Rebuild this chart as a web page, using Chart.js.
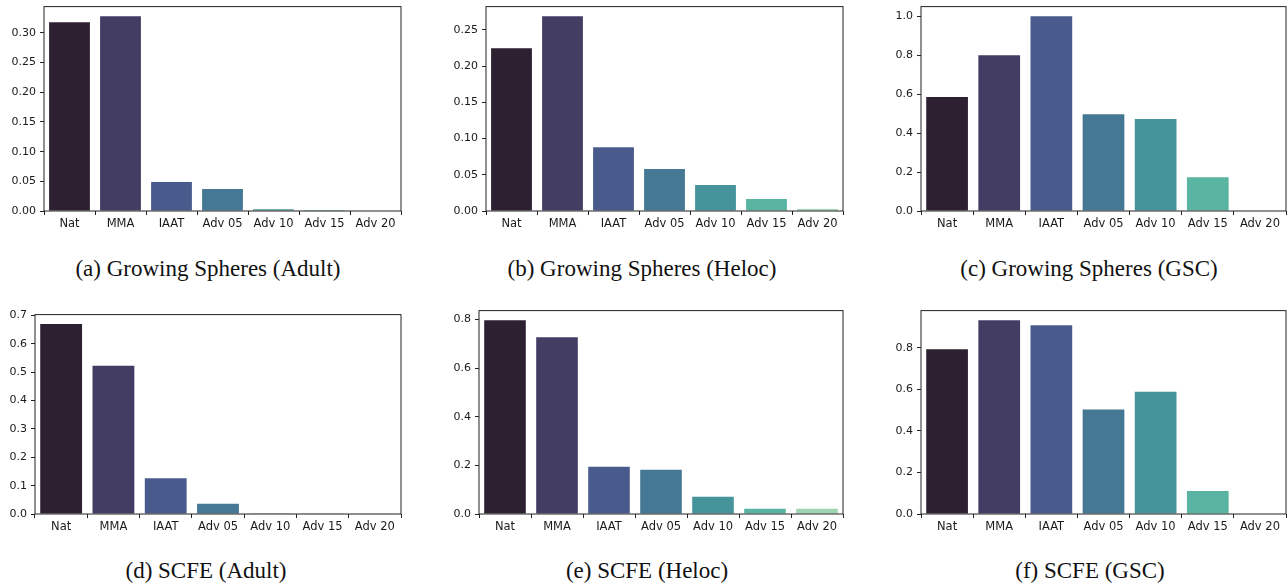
<!DOCTYPE html>
<html>
<head>
<meta charset="utf-8">
<script src="https://cdn.jsdelivr.net/npm/chart.js@4"></script>
<style>
body { margin: 0; width: 1288px; height: 584px; background: #fff; position: relative; overflow: hidden; }
canvas { position: absolute; }
.caption { position: absolute; font-family: "Liberation Serif", serif; font-size: 23px; color: #111; transform: translate(-50%, -50%); white-space: nowrap; }
</style>
</head>
<body>
<script>
// categories shared by all panels
const categories = ["Nat", "MMA", "IAAT", "Adv 05", "Adv 10", "Adv 15", "Adv 20"];
const barColors = ["#2c2031", "#433c63", "#495b8c", "#457894", "#46949b", "#5ab4a2", "#9fd4b3"];

// series values
const gsAdult = [0.318, 0.328, 0.049, 0.037, 0.003, 0.0017, 0];
const gsHeloc = [0.2245, 0.2686, 0.088, 0.058, 0.036, 0.0165, 0.0028];
const gsGsc = [0.585, 0.80, 1.0, 0.497, 0.472, 0.174, 0];
const scfeAdult = [0.670, 0.523, 0.126, 0.036, 0.001, 0.001, 0.0005];
const scfeHeloc = [0.797, 0.727, 0.194, 0.182, 0.071, 0.022, 0.022];
const scfeGsc = [0.793, 0.932, 0.908, 0.503, 0.588, 0.111, 0];

// y tick labels
const ticksA = ["0.00", "0.05", "0.10", "0.15", "0.20", "0.25", "0.30"];
const ticksB = ["0.00", "0.05", "0.10", "0.15", "0.20", "0.25"];
const ticksC = ["0.0", "0.2", "0.4", "0.6", "0.8", "1.0"];
const ticksD = ["0.0", "0.1", "0.2", "0.3", "0.4", "0.5", "0.6", "0.7"];
const ticksE = ["0.0", "0.2", "0.4", "0.6", "0.8"];
const ticksF = ["0.0", "0.2", "0.4", "0.6", "0.8"];

const captions = [
    "(a) Growing Spheres (Adult)", "(b) Growing Spheres (Heloc)", "(c) Growing Spheres (GSC)",
    "(d) SCFE (Adult)", "(e) SCFE (Heloc)", "(f) SCFE (GSC)"
];

// plot area boxes [left, top, right, bottom] and caption centres
const panels = [
    { data: gsAdult, ticks: ticksA, box: [44, 6, 401, 211], cap: [208, 269] },
    { data: gsHeloc, ticks: ticksB, box: [486, 6, 843, 211], cap: [642, 269] },
    { data: gsGsc, ticks: ticksC, box: [921, 6, 1286, 211], cap: [1089, 269] },
    { data: scfeAdult, ticks: ticksD, box: [35, 314, 401, 514], cap: [206, 571] },
    { data: scfeHeloc, ticks: ticksE, box: [479, 310, 843, 514], cap: [647, 571] },
    { data: scfeGsc, ticks: ticksF, box: [921, 310, 1286, 514], cap: [1090, 571] }
];

const Y_W = 48, X_H = 28, PAD_T = 10, PAD_R = 2;

const framePlugin = {
    id: "frame",
    afterDatasetsDraw(chart) {
        const a = chart.chartArea;
        const c = chart.ctx;
        c.save();
        c.strokeStyle = "#222";
        c.lineWidth = 1;
        c.strokeRect(a.left, a.top, a.right - a.left, a.bottom - a.top);
        c.restore();
    }
};

panels.forEach((p, i) => {
    const [l, t, r, b] = p.box;
    const canvas = document.createElement("canvas");
    const w = Y_W + (r - l) + PAD_R;
    const h = PAD_T + (b - t) + X_H;
    canvas.style.left = (l - Y_W) + "px";
    canvas.style.top = (t - PAD_T) + "px";
    canvas.style.width = w + "px";
    canvas.style.height = h + "px";
    canvas.width = w;
    canvas.height = h;
    document.body.appendChild(canvas);

    const cap = document.createElement("div");
    cap.className = "caption";
    cap.style.left = p.cap[0] + "px";
    cap.style.top = p.cap[1] + "px";
    cap.textContent = captions[i];
    document.body.appendChild(cap);

    const tickValues = p.ticks.map(s => parseFloat(s));
    const yMax = Math.max(...p.data) * 1.05;

    new Chart(canvas, {
        type: "bar",
        data: {
            labels: categories,
            datasets: [{
                data: p.data,
                backgroundColor: barColors,
                borderWidth: 0,
                barPercentage: 0.8,
                categoryPercentage: 1.0
            }]
        },
        options: {
            responsive: false,
            animation: false,
            devicePixelRatio: 1,
            layout: { padding: { top: PAD_T, right: PAD_R, left: 0, bottom: 0 } },
            plugins: { legend: { display: false }, tooltip: { enabled: false } },
            scales: {
                x: {
                    grid: { display: true, drawOnChartArea: false, drawTicks: true, tickLength: 4, color: "#222" },
                    border: { display: false },
                    ticks: { color: "#1a1a1a", padding: 2, maxRotation: 0, autoSkip: false, font: { family: "DejaVu Sans", size: 11.5 } },
                    afterFit: s => { s.height = X_H; }
                },
                y: {
                    min: 0,
                    max: yMax,
                    grid: { display: true, drawOnChartArea: false, drawTicks: true, tickLength: 4, color: "#222" },
                    border: { display: false },
                    ticks: {
                        color: "#1a1a1a", padding: 4, font: { family: "DejaVu Sans", size: 11 },
                        callback: (v, idx) => p.ticks[idx]
                    },
                    afterBuildTicks: s => { s.ticks = tickValues.map(v => ({ value: v })); },
                    afterFit: s => { s.width = Y_W; }
                }
            }
        },
        plugins: [framePlugin]
    });
});
</script>
</body>
</html>
